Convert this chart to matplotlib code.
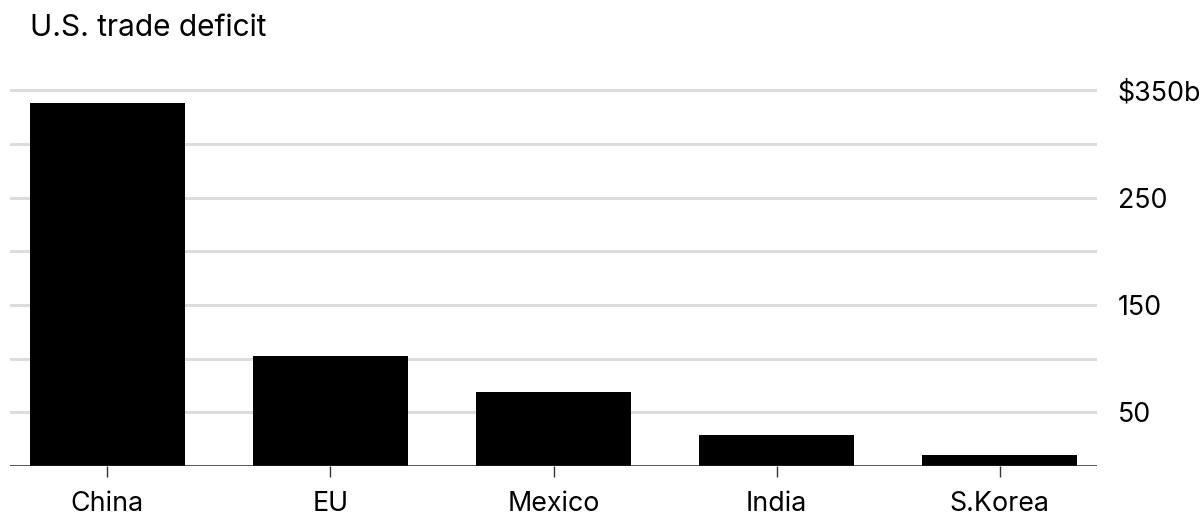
import matplotlib
matplotlib.use("Agg")
import matplotlib.pyplot as plt

categories = ["China", "EU", "Mexico", "India", "S.Korea"]
deficit = [338, 102, 69, 29, 10]
grid_values = [0, 50, 100, 150, 200, 250, 300, 350]
label_values = [50, 150, 250, 350]
label_texts = ["50", "150", "250", "$350b"]

plt.rcParams['font.family'] = ['Inter', 'DejaVu Sans']

W, H = 1202, 518
fig = plt.figure(figsize=(W / 100, H / 100), dpi=100)
left = 10 / W
right = 1097 / W
bottom = (H - 466) / H
top = (H - 79.4) / H
ax = fig.add_axes([left, bottom, right - left, top - bottom])

x = list(range(len(categories)))
ax.bar(x, deficit, width=0.695, color="black", zorder=3)

ax.set_xlim(-0.437, len(categories) - 1 + 0.437)
ax.set_ylim(0, 360)

for v in grid_values:
    if v == 0:
        continue
    ax.axhline(v, color="#dcdcdc", lw=2.2, zorder=1)
ax.axhline(0, color="#222222", lw=1.8, zorder=4)

for s in ax.spines.values():
    s.set_visible(False)

ax.set_xticks(x)
ax.set_xticklabels(categories, fontsize=19.3, color="black")
ax.tick_params(axis="x", length=8, width=1, color="#333333", pad=10)

ax.yaxis.tick_right()
ax.set_yticks(label_values)
ax.set_yticklabels(label_texts, fontsize=19.3, color="black")
ax.tick_params(axis="y", length=0, pad=15)

fig.text(30 / W, 1 - 13.5 / H, "U.S. trade deficit", fontsize=21.5,
         ha="left", va="top", color="black")

fig.savefig("out.png", dpi=100)
